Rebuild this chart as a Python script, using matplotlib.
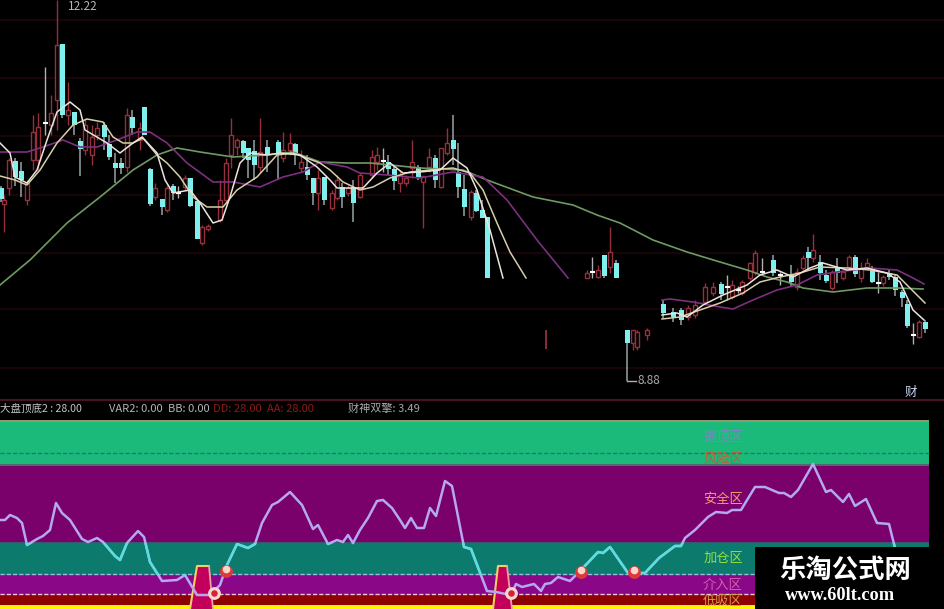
import matplotlib
matplotlib.use("Agg")
import matplotlib.pyplot as plt
from matplotlib.patches import Rectangle

plt.rcParams['font.family'] = ['Noto Sans CJK SC', 'DejaVu Sans']

grid_y = [20, 78, 136, 195, 253, 309, 368]

# falling candles (cyan, filled)
dn_x = [1, 15, 21, 62, 74, 80, 104, 109, 115, 121, 132, 144, 150, 162, 173, 190, 197, 243, 248, 254, 267, 278, 295, 307, 313, 324, 342, 353, 388, 394, 418, 435, 453, 458, 464, 476, 482, 487, 604, 616, 627, 663, 673, 681, 721, 773, 791, 808, 820, 826, 837, 855, 872, 889, 895, 902, 907, 925]
dn_top = [188, 161, 171, 44, 112, 141, 125, 144, 163, 163, 117, 107, 169, 199, 186, 178, 201, 141, 148, 151, 147, 142, 144, 167, 178, 177, 187, 187, 162, 169, 167, 158, 140, 172, 189, 193, 210, 217, 255, 263, 330, 304, 312, 310, 284, 260, 275, 252, 262, 275, 267, 257, 268, 273, 277, 292, 304, 322]
dn_bot = [199, 177, 180, 115, 125, 149, 137, 157, 168, 168, 128, 135, 204, 207, 193, 206, 239, 153, 160, 165, 155, 155, 155, 175, 193, 200, 197, 203, 169, 181, 178, 180, 149, 187, 207, 211, 218, 278, 276, 278, 343, 313, 317, 320, 294, 273, 282, 258, 273, 281, 273, 274, 282, 277, 290, 298, 326, 329]
dn_hi = [186, 158, 162, 44, 112, 138, 122, 135, 153, 158, 110, 107, 168, 199, 184, 178, 201, 140, 148, 140, 140, 140, 143, 155, 178, 177, 183, 180, 155, 165, 165, 155, 115, 143, 175, 190, 200, 217, 255, 260, 330, 300, 308, 308, 282, 255, 265, 247, 255, 270, 258, 255, 266, 270, 275, 290, 300, 320]
dn_lo = [202, 186, 197, 118, 135, 176, 150, 160, 183, 174, 135, 135, 206, 215, 200, 207, 239, 158, 178, 180, 172, 180, 165, 180, 205, 205, 208, 222, 175, 190, 180, 188, 165, 198, 216, 212, 218, 278, 278, 278, 381, 318, 322, 325, 300, 276, 287, 270, 280, 283, 283, 277, 283, 280, 296, 307, 328, 333]

# rising candles (dark red, hollow)
up_x = [4, 9, 27, 33, 38, 51, 57, 68, 85, 92, 97, 127, 140, 155, 167, 185, 202, 208, 220, 226, 231, 237, 260, 283, 290, 301, 318, 332, 337, 348, 360, 372, 377, 400, 406, 412, 423, 429, 441, 447, 471, 587, 598, 610, 633, 637, 647, 688, 695, 705, 713, 732, 742, 750, 755, 797, 803, 813, 832, 843, 849, 861, 867, 883, 919]
up_top = [200, 160, 183, 132, 127, 113, 45, 110, 125, 137, 128, 115, 128, 188, 188, 178, 227, 226, 200, 163, 135, 140, 152, 150, 143, 162, 178, 193, 180, 188, 175, 157, 155, 175, 178, 162, 176, 157, 148, 143, 192, 273, 270, 252, 330, 332, 330, 308, 305, 287, 287, 285, 282, 263, 253, 272, 258, 250, 272, 272, 257, 268, 263, 277, 322]
up_bot = [204, 188, 200, 160, 160, 125, 100, 115, 150, 155, 135, 167, 140, 197, 210, 187, 243, 229, 220, 200, 155, 147, 167, 158, 150, 168, 193, 208, 198, 193, 197, 175, 162, 183, 183, 168, 182, 167, 187, 153, 217, 278, 277, 267, 343, 347, 335, 317, 315, 302, 293, 297, 293, 278, 272, 287, 268, 258, 288, 278, 267, 278, 267, 283, 337]
up_hi = [195, 158, 180, 115, 113, 95, 0, 82, 118, 125, 122, 108, 122, 183, 185, 175, 225, 224, 180, 158, 118, 138, 118, 132, 133, 150, 170, 190, 175, 185, 173, 150, 147, 170, 175, 140, 176, 148, 148, 128, 190, 270, 265, 227, 330, 330, 328, 305, 300, 283, 282, 280, 280, 262, 250, 268, 255, 234, 270, 270, 255, 262, 258, 275, 320]
up_lo = [232, 195, 205, 170, 170, 135, 130, 125, 155, 165, 140, 172, 150, 200, 212, 190, 245, 231, 222, 203, 168, 155, 172, 162, 155, 172, 210, 210, 200, 196, 198, 178, 170, 192, 186, 178, 228, 172, 188, 155, 220, 278, 278, 273, 350, 350, 340, 320, 318, 305, 296, 299, 295, 280, 275, 290, 270, 262, 290, 280, 270, 282, 270, 286, 338]

# lone stub left over in the wiped part
stub_x = [546]
stub_hi = [330]
stub_lo = [349]

# doji ticks (white)
doji_x = [45, 178, 383, 592, 727, 738, 762, 780, 878, 913]
doji_y = [123, 193, 161, 272, 287, 290, 272, 275, 283, 335]
doji_hi = [67, 186, 148, 257, 275, 286, 258, 272, 272, 323]
doji_lo = [135, 198, 172, 278, 300, 293, 275, 285, 293, 344]

# moving averages, first stretch stops where the screenshot was wiped
ma5_x = [0, 10, 15, 27, 37, 47, 57, 70, 80, 85, 107, 120, 133, 142, 157, 165, 173, 190, 200, 213, 222, 230, 240, 250, 267, 280, 300, 317, 330, 337, 350, 363, 377, 390, 403, 420, 440, 453, 467, 477, 490, 503]
ma5_y = [143, 153, 177, 183, 170, 140, 112, 102, 110, 130, 143, 153, 143, 137, 153, 180, 193, 190, 203, 223, 220, 197, 163, 153, 155, 153, 155, 167, 180, 188, 188, 188, 173, 163, 173, 172, 170, 158, 168, 190, 230, 278]
ma10_x = [0, 15, 27, 40, 57, 73, 87, 103, 113, 123, 133, 143, 157, 167, 180, 193, 207, 223, 237, 257, 277, 293, 320, 330, 343, 360, 373, 390, 410, 430, 453, 470, 483, 497, 510, 526]
ma10_y = [176, 180, 185, 170, 143, 125, 119, 122, 137, 143, 143, 138, 155, 163, 177, 197, 207, 207, 190, 177, 155, 153, 163, 170, 182, 190, 187, 178, 172, 170, 168, 173, 190, 223, 252, 278]
ma20_x = [0, 27, 43, 63, 80, 97, 117, 137, 150, 167, 187, 213, 233, 260, 283, 303, 320, 347, 360, 387, 420, 453, 483, 507, 537, 568]
ma20_y = [152, 152, 147, 140, 147, 147, 140, 132, 132, 143, 163, 182, 182, 187, 177, 172, 162, 167, 173, 175, 178, 172, 177, 200, 240, 278]
ma60_x = [0, 30, 67, 100, 133, 157, 177, 200, 233, 267, 293, 320, 347, 370, 420, 463, 487, 533, 573, 597, 620, 653, 687, 720, 747, 767, 787, 803, 833, 867, 897, 923]
ma60_y = [285, 260, 223, 197, 170, 155, 148, 152, 157, 155, 152, 162, 163, 163, 168, 170, 180, 197, 205, 215, 223, 240, 252, 262, 270, 277, 282, 288, 292, 288, 288, 289]

# second stretch on the right
ma5b_x = [662, 677, 687, 703, 723, 747, 760, 777, 793, 810, 823, 847, 867, 887, 900, 913, 924]
ma5b_y = [315, 313, 317, 305, 295, 285, 275, 270, 277, 268, 263, 270, 268, 273, 282, 310, 320]
ma10b_x = [662, 680, 700, 720, 743, 760, 780, 800, 820, 847, 870, 897, 910, 925]
ma10b_y = [319, 317, 310, 303, 293, 282, 277, 273, 267, 268, 270, 275, 288, 303]
ma20b_x = [662, 670, 693, 720, 733, 753, 777, 797, 817, 837, 870, 897, 913, 924]
ma20b_y = [300, 299, 302, 307, 309, 300, 290, 285, 275, 272, 268, 270, 278, 284]

# indicator panel
band_tops = [422, 466, 543, 575, 595]
band_bots = [466, 543, 575, 595, 605]
band_cols = ["#1BB97A", "#7A006C", "#0C7A6C", "#8A0888", "#8E0202"]
dash_y = [453, 574, 594]
dash_cols = ["#0f7f7c", "#a8b4e8", "#f0c8c8"]

ind_x = [0, 5, 10, 17, 22, 27, 37, 43, 50, 56, 62, 70, 82, 88, 97, 103, 115, 120, 127, 138, 144, 150, 162, 177, 185, 197, 210, 220, 227, 237, 248, 255, 262, 272, 278, 290, 302, 313, 318, 328, 337, 343, 348, 353, 360, 368, 377, 383, 392, 400, 405, 411, 417, 424, 430, 436, 445, 452, 464, 471, 487, 496, 511, 516, 522, 534, 541, 545, 551, 558, 570, 581, 598, 603, 610, 628, 645, 659, 675, 681, 685, 695, 708, 716, 727, 732, 741, 755, 765, 779, 784, 791, 798, 813, 826, 831, 843, 849, 855, 866, 877, 889, 895]
ind_y = [520, 520, 515, 518, 523, 545, 539, 536, 530, 503, 513, 520, 539, 542, 538, 542, 556, 560, 543, 531, 537, 562, 581, 580, 575, 595, 595, 585, 565, 544, 548, 544, 523, 505, 502, 492, 505, 529, 525, 544, 540, 542, 535, 543, 530, 518, 501, 500, 508, 520, 528, 518, 528, 528, 508, 516, 481, 486, 547, 549, 591, 592, 595, 584, 587, 584, 591, 584, 583, 577, 581, 570, 552, 553, 547, 573, 573, 558, 546, 546, 538, 530, 517, 512, 513, 510, 510, 487, 487, 493, 493, 497, 490, 464, 492, 490, 502, 494, 506, 499, 523, 524, 548]

zone_names = ["逃顶区", "风险区", "安全区", "加仓区", "介入区", "低吸区"]
zone_y = [437, 459, 500, 558, 585, 601]
zone_cols = ["#8a7fd0", "#b0653c", "#f0a070", "#8fe040", "#d060b0", "#d09a50"]

trap_left = [[190, 197, 209, 213], [493, 498, 507, 512]]
trap_y = [609, 566, 566, 609]
ball_x = [226, 581, 634]
ball_y = [571, 572, 572]
ring_x = [214, 511]
ring_y = [593, 593]

legend_txt = ["大盘顶底2 : 28.00", "VAR2: 0.00", "BB: 0.00", "DD: 28.00", "AA: 28.00", "财神双擎: 3.49"]
legend_x = [0, 109, 168, 213, 267, 348]
legend_size = [7.6, 8, 8, 8, 8, 8]
legend_cols = ["#c4c4c4", "#b4b4b4", "#b4b4b4", "#8c1c14", "#8c1c14", "#a8a8a8"]

fig = plt.figure(figsize=(9.45, 6.09), dpi=100, facecolor="black")
ax = fig.add_axes([0, 0, 1, 1])
ax.set_xlim(0, 945)
ax.set_ylim(609, 0)
ax.set_facecolor("black")
ax.axis("off")

# price pane
ax.hlines(grid_y, 0, 945, color="#1f0709", lw=1.2, zorder=1)
ax.hlines(400, 0, 945, color="#4a1220", lw=1.5, zorder=1)

red = "#96303c"
cyan = "#80f0ee"
ax.vlines(up_x, up_hi, up_top, color=red, lw=1.0, zorder=2)
ax.vlines(up_x, up_bot, up_lo, color=red, lw=1.0, zorder=2)
up_h = [b - t for t, b in zip(up_top, up_bot)]
ax.bar(up_x, up_h, bottom=up_top, width=4, facecolor="black", edgecolor=red, lw=1.0, zorder=2)
ax.vlines(stub_x, stub_hi, stub_lo, color=red, lw=1.3, zorder=2)

ax.vlines(dn_x, dn_hi, dn_lo, color="#98a4a4", lw=1.1, zorder=3)
dn_h = [b - t for t, b in zip(dn_top, dn_bot)]
ax.bar(dn_x, dn_h, bottom=dn_top, width=5, color=cyan, lw=0, zorder=3)

ax.vlines(doji_x, doji_hi, doji_lo, color="#b0b0b0", lw=1.0, zorder=3)
ax.hlines(doji_y, [x - 2.5 for x in doji_x], [x + 2.5 for x in doji_x], color="white", lw=1.5, zorder=3)

ax.plot(ma60_x, ma60_y, color="#6f9a62", lw=1.2, zorder=4)
ax.plot(ma20_x, ma20_y, color="#7d2f80", lw=1.2, zorder=4)
ax.plot(ma20b_x, ma20b_y, color="#7d2f80", lw=1.2, zorder=4)
ax.plot(ma10_x, ma10_y, color="#d8cfa8", lw=1.1, zorder=5)
ax.plot(ma10b_x, ma10b_y, color="#d8cfa8", lw=1.1, zorder=5)
ax.plot(ma5_x, ma5_y, color="#ece4dc", lw=1.1, zorder=5)
ax.plot(ma5b_x, ma5b_y, color="#ece4dc", lw=1.1, zorder=5)

ax.text(68, 6, "12.22", color="#b8b8b8", fontsize=8.5, va="center", zorder=6)
ax.plot([627, 636], [381, 381], color="#b0b0b0", lw=1, zorder=6)
ax.text(638, 381, "8.88", color="#a8a8a8", fontsize=8.5, va="center", zorder=6)
ax.text(911, 392, "财", color="#c8d8f0", fontsize=9, ha="center", va="center", zorder=6)

for txt, x, c, s in zip(legend_txt, legend_x, legend_cols, legend_size):
    ax.text(x, 409, txt, color=c, fontsize=s, va="center", zorder=6)

# indicator bands
ax.add_patch(Rectangle((0, 420), 929, 2.5, color="#8f9a6c", lw=0, zorder=1))
for t, b, c in zip(band_tops, band_bots, band_cols):
    ax.add_patch(Rectangle((0, t), 929, b - t, color=c, lw=0, zorder=1))
ax.hlines(465, 0, 929, color="#4f6a6a", lw=1.5, zorder=2)
ax.hlines(542.5, 0, 929, color="#2c6a70", lw=1.2, zorder=2)
ax.add_patch(Rectangle((0, 605), 929, 4, color="#fff500", lw=0, zorder=1))
for y, c in zip(dash_y, dash_cols):
    ax.plot([0, 929], [y, y], color=c, lw=1, ls=(0, (3, 1.5)), zorder=2)

for xs in trap_left:
    ax.fill(xs, trap_y, facecolor="#c2005c", edgecolor="none", zorder=3)
    ax.plot(xs[:3], trap_y[:3], color="#f0d060", lw=1.5, zorder=3)
    ax.plot(xs[2:], trap_y[2:], color="#f0a0a0", lw=1.3, zorder=3)

# line looks cyan over the teal band and lavender over the purple ones
lav, = ax.plot(ind_x, ind_y, color="#b4a8f0", lw=1.8, zorder=4)
cy, = ax.plot(ind_x, ind_y, color="#58e0dc", lw=1.8, zorder=4)
cy.set_clip_path(Rectangle((0, 543), 929, 32, transform=ax.transData))

ax.scatter(ball_x, ball_y, s=85, color="#e03838", lw=0, zorder=5)
ax.scatter(ball_x, [y - 2 for y in ball_y], s=30, color="#f4d8d0", lw=0, zorder=5)
ax.scatter(ring_x, ring_y, s=85, color="#f4d8d0", lw=0, zorder=5)
ax.scatter(ring_x, ring_y, s=22, color="#d82038", lw=0, zorder=5)

for name, y, c in zip(zone_names, zone_y, zone_cols):
    ax.text(723, y, name, color=c, fontsize=9.5, ha="center", va="center", zorder=6)

# watermark box
ax.add_patch(Rectangle((755, 547), 190, 62, color="black", lw=0, zorder=7))
ax.text(845, 570, "乐淘公式网", color="white", fontsize=19, fontweight="bold", ha="center", va="center", zorder=8)
ax.text(840, 596, "www.60lt.com", color="white", fontsize=13.2, fontweight="bold", family="Liberation Serif", ha="center", va="center", zorder=8)

fig.savefig("out.png", dpi=100, facecolor="black")
